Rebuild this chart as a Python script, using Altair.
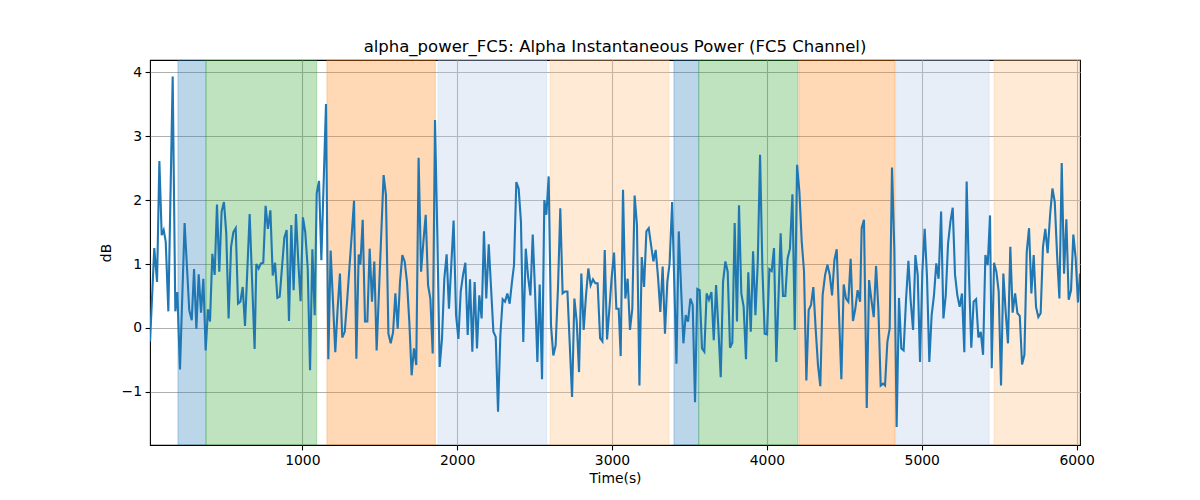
import altair as alt
import pandas as pd

times = [17, 44, 62, 77, 92, 105, 118, 135, 163, 180, 193, 210, 240, 270, 286, 301, 316, 331, 346, 361,
         376, 391, 404, 419, 434, 449, 464, 479, 494, 509, 524, 540, 555, 570, 585, 600, 615, 630, 660, 692,
         703, 718, 733, 748, 763, 778, 794, 809, 824, 839, 854, 884, 899, 914, 929, 944, 959, 974, 989, 1004,
         1019, 1035, 1050, 1065, 1080, 1093, 1108, 1123, 1153, 1168, 1183, 1213, 1228, 1243, 1258, 1274, 1289, 1304, 1319, 1334,
         1349, 1364, 1375, 1390, 1405, 1420, 1435, 1450, 1465, 1480, 1525, 1540, 1556, 1571, 1586, 1601, 1616, 1631, 1646, 1661,
         1676, 1691, 1706, 1721, 1736, 1751, 1767, 1782, 1797, 1812, 1827, 1842, 1857, 1872, 1887, 1902, 1917, 1932, 1947, 1962,
         1977, 1993, 2008, 2023, 2038, 2053, 2068, 2083, 2098, 2113, 2128, 2143, 2158, 2173, 2188, 2204, 2219, 2234, 2249, 2264,
         2279, 2294, 2309, 2324, 2339, 2354, 2367, 2382, 2397, 2412, 2427, 2443, 2458, 2473, 2488, 2503, 2518, 2533, 2548, 2563,
         2576, 2591, 2606, 2621, 2636, 2651, 2666, 2681, 2697, 2712, 2742, 2757, 2772, 2787, 2802, 2817, 2832, 2847, 2862, 2877,
         2892, 2907, 2923, 2938, 2953, 2968, 2983, 2998, 3013, 3028, 3043, 3056, 3071, 3086, 3101, 3116, 3131, 3146, 3161, 3177,
         3192, 3207, 3222, 3237, 3252, 3267, 3282, 3297, 3312, 3327, 3342, 3357, 3372, 3388, 3416, 3431, 3446, 3461, 3476, 3491,
         3506, 3521, 3536, 3551, 3566, 3581, 3596, 3611, 3626, 3642, 3657, 3672, 3687, 3702, 3717, 3732, 3747, 3762, 3777, 3792,
         3807, 3820, 3835, 3850, 3865, 3880, 3896, 3911, 3926, 3941, 3956, 3971, 3986, 4001, 4016, 4031, 4046, 4061, 4089, 4104,
         4119, 4134, 4149, 4165, 4180, 4195, 4210, 4225, 4240, 4255, 4270, 4285, 4300, 4315, 4330, 4345, 4360, 4376, 4391, 4406,
         4421, 4436, 4451, 4466, 4481, 4496, 4511, 4526, 4541, 4556, 4571, 4586, 4602, 4612, 4627, 4645, 4660, 4675, 4690, 4705,
         4720, 4735, 4750, 4763, 4778, 4793, 4808, 4823, 4838, 4853, 4868, 4883, 4899, 4914, 4929, 4944, 4959, 4974, 4989, 5004,
         5019, 5034, 5049, 5064, 5079, 5094, 5109, 5125, 5140, 5155, 5170, 5185, 5200, 5215, 5230, 5245, 5260, 5275, 5290, 5305,
         5320, 5335, 5351, 5366, 5381, 5396, 5411, 5426, 5441, 5452, 5467, 5482, 5497, 5512, 5527, 5542, 5557, 5572, 5587, 5603,
         5618, 5633, 5648, 5663, 5678, 5693, 5708, 5723, 5738, 5753, 5768, 5783, 5798, 5813, 5829, 5844, 5859, 5874, 5889, 5904,
         5919, 5934, 5949, 5964, 5979, 5994, 6009, 6022]

values = [-0.21, 1.25, 0.72, 2.61, 1.45, 1.53, 1.35, 0.26, 3.93, 0.26, 0.56, -0.65, 1.64, 0.28, 0.12, 0.92, -0.01, 0.84, 0.24, 0.77,
          -0.35, 0.29, 0.10, 1.16, 0.83, 1.93, 0.88, 1.82, 1.97, 1.48, 0.15, 1.27, 1.50, 1.56, 0.38, 0.41, 0.64, 0.03, 1.78, -0.33,
          1.00, 0.93, 1.01, 1.02, 1.91, 1.55, 1.84, 0.82, 1.02, 0.47, 0.49, 1.41, 1.53, 0.11, 1.61, 0.59, 1.78, 1.04, 0.42, 1.73,
          1.50, 0.93, -0.66, 1.23, 0.20, 2.11, 2.30, 1.06, 3.50, -0.49, 1.21, -0.38, 0.30, 0.85, -0.15, -0.06, 0.41, 0.93, 1.45, 1.99,
          -0.48, 1.15, 0.99, 1.69, 0.10, 0.10, 1.24, 0.41, 1.04, -0.35, 2.39, 2.08, -0.09, -0.24, -0.07, 0.54, -0.01, 0.72, 1.14, 1.04,
          0.72, 0.10, -0.74, -0.32, -0.58, 2.66, 0.88, 1.35, 1.77, 0.67, 0.46, -0.40, 3.25, 1.45, -0.61, -0.17, 0.77, 1.15, 0.30, 0.98,
          1.68, 0.20, -0.17, 0.57, 0.83, 1.02, -0.11, 0.76, -0.37, 0.72, -0.32, 0.51, 0.15, 1.51, 0.46, 1.31, 0.62, -0.06, -0.14, -1.31,
          -0.11, 0.45, 0.41, 0.54, 0.38, 0.72, 0.98, 2.28, 2.18, 1.66, -0.22, 1.24, 0.80, 0.51, 1.46, 0.57, -0.53, 0.68, -0.80, 2.00,
          1.77, 2.37, 0.04, -0.43, -0.27, 0.62, 1.87, 0.54, 0.57, 0.57, -1.08, 0.46, 0.10, -0.69, 0.85, -0.03, 0.51, 0.93, 0.67, 0.76,
          0.70, 0.70, -0.16, -0.21, 1.22, -0.18, 0.30, 0.80, 1.18, 0.30, 0.30, -0.44, 2.16, 0.46, 0.77, -0.03, 0.30, 2.07, 1.61, -0.90,
          1.11, 0.64, 1.51, 1.56, 1.30, 1.04, 1.22, 0.80, 0.25, 0.96, -0.09, 0.72, 1.01, 1.97, -0.56, 1.51, 0.62, -0.24, 0.20, 0.10,
          0.46, 0.36, -1.16, 0.61, 0.59, -0.32, -0.37, 0.54, 0.44, 0.56, -0.19, 0.67, -0.01, -0.77, 0.72, 1.04, 0.88, -0.31, -0.23, 1.64,
          0.10, 1.92, 0.54, 0.33, -0.49, 0.87, -0.06, 1.20, 0.20, 1.01, 2.71, 0.93, -0.09, -0.10, 0.92, 0.89, 1.25, -0.53, 1.48, 0.50,
          0.50, 1.09, 1.24, 2.09, -0.03, 2.55, 2.13, 1.35, 0.88, -0.82, 0.28, 0.36, 0.64, -0.01, -0.58, -0.91, 0.51, 0.83, 0.99, 0.83,
          0.51, 1.06, 1.23, 0.20, -0.80, 0.68, 0.46, 0.41, 1.08, 0.11, 0.30, 0.59, 0.41, 1.56, 1.69, -1.25, 0.75, 0.44, 0.17, 0.97,
          0.30, -0.90, -0.87, -0.90, -0.22, -0.01, 2.51, 1.24, -1.55, 0.47, -0.32, -0.35, 0.46, 1.05, 0.41, -0.03, 1.14, 0.83, -0.53, 0.88,
          1.55, 0.80, -0.53, 0.20, 0.51, 1.01, 0.77, 1.82, 0.15, 0.51, 1.32, 1.66, 1.88, 0.83, 0.51, 0.33, 0.54, -0.38, 2.29, 0.83,
          -0.31, 0.41, 0.45, -0.15, -0.06, -0.42, 1.14, 0.98, 1.76, -0.63, 1.02, 0.88, 0.57, -0.90, 0.85, 0.25, -0.24, 1.27, 0.24, 0.54,
          0.23, 0.19, -0.57, -0.42, 1.19, 1.56, 0.54, 1.14, 0.33, 0.17, 0.23, 1.27, 1.55, 1.17, 1.77, 2.18, 1.97, 1.14, 0.46, 2.58,
          0.85, 1.70, 0.44, 0.59, 1.46, 1.09, 0.40, 0.85]

span_start = [197, 378, 1159, 1876, 2600, 3400, 3560, 4207, 4831, 5467]
span_end = [378, 1093, 1859, 2578, 3368, 3560, 4200, 4827, 5435, 6022]
span_color = ["#1f77b4", "#2ca02c", "#ff7f0e", "#aec7e8", "#ffbb78",
              "#1f77b4", "#2ca02c", "#ff7f0e", "#aec7e8", "#ffbb78"]

x_ticks = [1000, 2000, 3000, 4000, 5000, 6000]
y_ticks = [-1, 0, 1, 2, 3, 4]

line_df = pd.DataFrame({"t": times, "v": values})
span_df = pd.DataFrame({"start": span_start, "end": span_end, "color": span_color})

W, H = 930, 385
xs = alt.Scale(domain=[16.5, 6022], nice=False, zero=False)
ys = alt.Scale(domain=[-1.83, 4.19], nice=False, zero=False)

font = "DejaVu Sans"

spans = alt.Chart(span_df).mark_rect(
    fillOpacity=0.3, strokeOpacity=0.3, strokeWidth=1, clip=True
).encode(
    x=alt.X("start:Q", scale=xs,
            axis=alt.Axis(values=x_ticks, format="d", title="Time(s)", grid=True)),
    x2="end:Q",
    y=alt.value(0),
    y2=alt.value(H),
    fill=alt.Fill("color:N", scale=None),
    stroke=alt.Stroke("color:N", scale=None),
)

line = alt.Chart(line_df).mark_line(color="#1f77b4", strokeWidth=2.1, clip=True).encode(
    x=alt.X("t:Q", scale=xs),
    y=alt.Y("v:Q", scale=ys,
            axis=alt.Axis(values=y_ticks, format="d", title="dB", grid=True,
                          labelExpr="replace(datum.label, '-', '\u2212')")),
)

chart = alt.layer(spans, line).properties(
    width=W, height=H,
    title=alt.TitleParams("alpha_power_FC5: Alpha Instantaneous Power (FC5 Channel)",
                          font=font, fontSize=16.5, fontWeight="normal", color="black",
                          offset=5),
    autosize=alt.AutoSizeParams(type="none"),
    padding={"left": 142, "top": 52, "right": 100, "bottom": 40},
).configure_view(
    stroke="black", strokeWidth=1.1
).configure_axis(
    labelFont=font, titleFont=font, labelFontSize=13.9, titleFontSize=13.9,
    labelColor="black", titleColor="black", titleFontWeight="normal",
    domain=False, tickColor="black", tickSize=4.9, tickWidth=1.1,
    labelPadding=3.5, gridColor="#b0b0b0", gridWidth=1.1, gridOpacity=1,
).configure_axisX(
    titlePadding=4
).configure_axisY(
    titlePadding=8
)

chart.save("out.html", embed_options={"renderer": "svg", "actions": False})
